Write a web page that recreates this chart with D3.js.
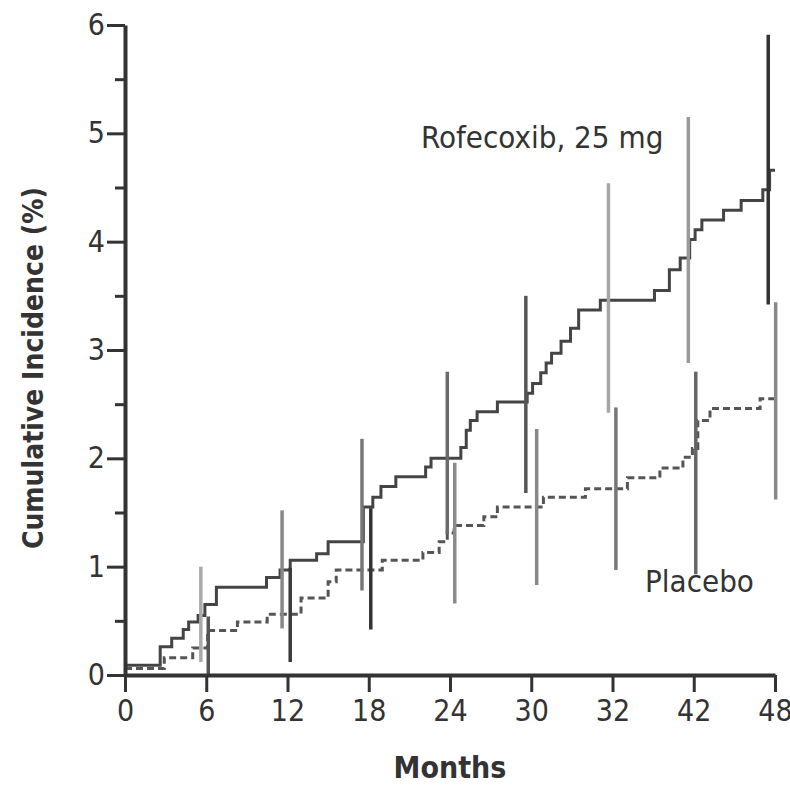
<!DOCTYPE html>
<html>
<head>
<meta charset="utf-8">
<script src="https://cdn.jsdelivr.net/npm/d3@7"></script>
<style>
    body { margin: 0; background: #fff; }
    text { font-family: "DejaVu Sans Condensed", "Liberation Sans Narrow", "DejaVu Sans", sans-serif; fill: #333; }
</style>
</head>
<body>
<script>
// Data ----------------------------------------------------------------------
var rofMonths = [0, 2.6, 3.45, 4.3, 4.7, 5.4, 5.9, 6.75, 10.45, 11.45, 12.2, 14.15, 15.0,
    17.6, 18.3, 18.9, 20.0, 22.2, 22.6, 24.8, 25.2, 25.5, 26.0, 27.5, 29.7, 30.1, 30.7,
    31.1, 31.5, 32.2, 32.9, 33.5, 35.1, 39.1, 40.2, 41.0, 41.7, 42.1, 42.6, 44.2, 45.5,
    47.1, 47.6];
var rofValues = [0.09, 0.26, 0.34, 0.42, 0.49, 0.55, 0.65, 0.81, 0.9, 0.97, 1.06, 1.12, 1.23,
    1.55, 1.64, 1.74, 1.83, 1.92, 2.0, 2.1, 2.26, 2.35, 2.43, 2.52, 2.6, 2.69, 2.79,
    2.88, 2.97, 3.08, 3.2, 3.37, 3.46, 3.55, 3.74, 3.85, 4.02, 4.11, 4.2, 4.29, 4.38,
    4.48, 4.66];

var placeboMonths = [0, 2.9, 5.0, 6.1, 8.3, 10.5, 13.0, 15.0, 15.6, 19.0, 22.0, 23.2, 23.8,
    24.3, 26.5, 27.5, 30.9, 34.0, 37.1, 39.5, 41.2, 41.9, 42.3, 43.2, 46.9];
var placeboValues = [0.06, 0.16, 0.25, 0.41, 0.49, 0.56, 0.71, 0.86, 0.97, 1.06, 1.13, 1.23, 1.31,
    1.38, 1.46, 1.55, 1.64, 1.72, 1.82, 1.91, 2.01, 2.09, 2.35, 2.46, 2.55];

// 95% confidence bars
var rofBarMonths = [5.6, 11.6, 17.5, 23.8, 29.6, 35.7, 41.6, 47.5];
var rofBarHigh = [1.0, 1.52, 2.18, 2.8, 3.5, 4.54, 5.15, 5.91];
var rofBarLow = [0.12, 0.43, 0.78, 1.3, 1.68, 2.42, 2.88, 3.42];

var placeboBarMonths = [6.15, 12.2, 18.15, 24.35, 30.4, 36.25, 42.15, 48.05];
var placeboBarHigh = [0.54, 0.99, 1.54, 1.96, 2.27, 2.47, 2.8, 3.44];
var placeboBarLow = [0.0, 0.12, 0.42, 0.66, 0.83, 0.97, 0.93, 1.62];

var xTickValues = [0, 6, 12, 18, 24, 30, 36, 42, 48];
var xTickLabels = ["0", "6", "12", "18", "24", "30", "32", "42", "48"];
var yTickValues = [0, 1, 2, 3, 4, 5, 6];
var yMinorTicks = [0.5, 1.5, 2.5, 3.5, 4.5, 5.5];

// bar shades (styles, kept apart from the data)
var rofBarShades = ["#aaa", "#888", "#777", "#6a6a6a", "#555", "#a5a5a5", "#999", "#333"];
var placeboBarShades = ["#555", "#3a3a3a", "#333", "#8a8a8a", "#888", "#777", "#666", "#888"];

// Dimensions ----------------------------------------------------------------
var margin = {
        top: 25,
        right: 15,
        bottom: 110,
        left: 125
    },
    width = 790 - margin.left - margin.right,
    height = 785 - margin.top - margin.bottom;

var svg = d3.select("body").append("svg")
    .attr("width", 790)
    .attr("height", 785)
    .append("g")
    .attr("transform", "translate(" + margin.left + "," + margin.top + ")");

var x = d3.scaleLinear().domain([0, 48]).range([0, width]);
var y = d3.scaleLinear().domain([0, 6]).range([height, 0]);

function zipSteps(months, values) {
    var pts = months.map(function(m, i) {
        return [m, values[i]];
    });
    pts.push([48, values[values.length - 1]]);
    return pts;
}

var stepLine = d3.line()
    .curve(d3.curveStepAfter)
    .x(function(d) { return x(d[0]); })
    .y(function(d) { return y(d[1]); });

// Curves --------------------------------------------------------------------
svg.append("path")
    .datum(zipSteps(rofMonths, rofValues))
    .attr("fill", "none")
    .attr("stroke", "#444")
    .attr("stroke-width", 3)
    .attr("d", stepLine);

svg.append("path")
    .datum(zipSteps(placeboMonths, placeboValues))
    .attr("fill", "none")
    .attr("stroke", "#555")
    .attr("stroke-width", 3)
    .attr("stroke-dasharray", "7,4")
    .attr("d", stepLine);

// Error bars ----------------------------------------------------------------
function drawBars(months, lows, highs, shades) {
    svg.selectAll(null)
        .data(months)
        .enter().append("line")
        .attr("x1", function(d) { return x(d); })
        .attr("x2", function(d) { return x(d); })
        .attr("y1", function(d, i) { return y(highs[i]); })
        .attr("y2", function(d, i) { return y(lows[i]); })
        .attr("stroke", function(d, i) { return shades[i]; })
        .attr("stroke-width", 3.5);
}
drawBars(rofBarMonths, rofBarLow, rofBarHigh, rofBarShades);
drawBars(placeboBarMonths, placeboBarLow, placeboBarHigh, placeboBarShades);

// Axes ----------------------------------------------------------------------
svg.append("g")
    .attr("transform", "translate(0," + height + ")")
    .call(d3.axisBottom(x)
        .tickValues(xTickValues)
        .tickFormat(function(d, i) { return xTickLabels[i]; })
        .tickSize(17)
        .tickSizeOuter(0)
        .tickPadding(8));

svg.append("g")
    .call(d3.axisLeft(y)
        .tickValues(yTickValues)
        .tickFormat(d3.format("d"))
        .tickSize(18)
        .tickSizeOuter(0)
        .tickPadding(2));

svg.append("g")
    .call(d3.axisLeft(y)
        .tickValues(yMinorTicks)
        .tickSize(10)
        .tickSizeOuter(0)
        .tickFormat(""))
    .select(".domain").remove();

svg.selectAll(".domain")
    .attr("stroke", "#333")
    .attr("stroke-width", 4);
svg.selectAll(".tick line")
    .attr("stroke", "#333")
    .attr("stroke-width", 3);
svg.selectAll(".tick text")
    .attr("font-size", 30)
    .attr("fill", "#333");

// Labels --------------------------------------------------------------------
svg.append("text")
    .attr("x", width / 2)
    .attr("y", 778 - margin.top)
    .attr("text-anchor", "middle")
    .attr("font-size", 30)
    .attr("font-weight", "bold")
    .text("Months");

svg.append("text")
    .attr("transform", "translate(" + (43 - margin.left) + "," + (368 - margin.top) + ") rotate(-90)")
    .attr("text-anchor", "middle")
    .attr("font-size", 28)
    .attr("font-weight", "bold")
    .text("Cumulative Incidence (%)");

svg.append("text")
    .attr("x", 421 - margin.left)
    .attr("y", 148 - margin.top)
    .attr("font-size", 31)
    .text("Rofecoxib, 25 mg");

svg.append("text")
    .attr("x", 645 - margin.left)
    .attr("y", 592 - margin.top)
    .attr("font-size", 31)
    .text("Placebo");
</script>
</body>
</html>
